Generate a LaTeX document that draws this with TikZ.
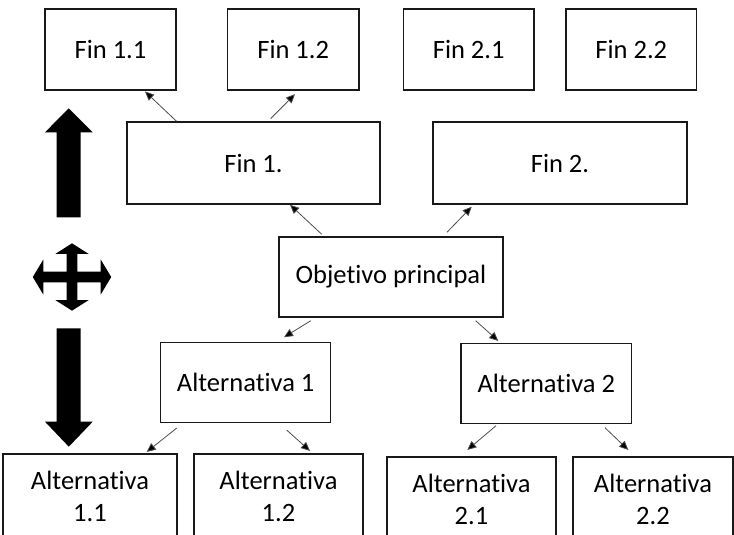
\documentclass[tikz,border=0pt]{standalone}
\usepackage{fontspec}
\setmainfont{Carlito}[Ligatures=NoCommon]
\usetikzlibrary{arrows.meta}
\begin{document}
\begin{tikzpicture}[x=1pt,y=-1pt,
  box/.style={draw=black!90, line width=1.5pt, rectangle, inner sep=0pt,
    align=center, font=\fontsize{26.5}{32}\selectfont},
  conn/.style={draw=black!70, line width=0.8pt,
    -{Triangle[length=9pt,width=8pt,fill=black]}},
  bigarrow/.style={fill=black, draw=none}]
\useasboundingbox (0,0) rectangle (734,535);
\clip (0,0) rectangle (734,535);

% top row
\node[box, minimum width=131pt, minimum height=81pt] (fin11) at (110.5,49.5) {Fin 1.1};
\node[box, minimum width=131.7pt, minimum height=81pt] (fin12) at (293.2,49.5) {Fin 1.2};
\node[box, minimum width=130.7pt, minimum height=81pt] (fin21) at (468.7,49.5) {Fin 2.1};
\node[box, minimum width=130.7pt, minimum height=81pt] (fin22) at (631.3,49.5) {Fin 2.2};

% ends
\node[box, minimum width=253pt, minimum height=82pt] (fin1) at (253.5,163) {Fin 1.};
\node[box, minimum width=254pt, minimum height=82pt] (fin2) at (560,163) {Fin 2.};

% main objective
\node[box, minimum width=224pt, minimum height=80pt] (obj) at (391,277) {Objetivo principal};

% alternatives
\node[box, minimum width=170pt, minimum height=80pt] (alt1) at (245.7,382.7) {Alternativa 1};
\node[box, minimum width=170.7pt, minimum height=80pt] (alt2) at (546.3,383.3) {Alternativa 2};

% sub-alternatives (run past the lower edge)
\node[box, minimum width=174pt, minimum height=84pt] (alt11) at (90,496) {Alternativa\\1.1};
\node[box, minimum width=169pt, minimum height=84pt] (alt12) at (278.5,496) {Alternativa\\1.2};
\node[box, minimum width=169pt, minimum height=84pt] (alt21) at (471.5,499) {Alternativa\\2.1};
\node[box, minimum width=160pt, minimum height=84pt] (alt22) at (653,499) {Alternativa\\2.2};

% connectors
\draw[conn] ([xshift=-77pt]fin1.north) -- ([xshift=34.5pt,yshift=-0.7pt]fin11.south);
\draw[conn] ([xshift=17.2pt,yshift=2.7pt]fin1.north) -- ([xshift=1.8pt,yshift=-3.4pt]fin12.south);
\draw[conn] ([xshift=-69.3pt,yshift=2pt]obj.north) -- ([xshift=36.5pt]fin1.south);
\draw[conn] ([xshift=56pt,yshift=4pt]obj.north) -- ([xshift=-88.3pt,yshift=-2pt]fin2.south);
\draw[conn] ([xshift=-80.3pt,yshift=-3pt]obj.south) -- ([xshift=38.3pt,yshift=4.7pt]alt1.north);
\draw[conn] ([xshift=84.7pt,yshift=-3pt]obj.south) -- ([xshift=-48pt,yshift=1.6pt]alt2.north);
\draw[conn] ([xshift=-69pt,yshift=-4.6pt]alt1.south) -- ([xshift=56.7pt,yshift=1.3pt]alt11.north);
\draw[conn] ([xshift=41pt,yshift=-6.6pt]alt1.south) -- ([xshift=31.5pt,yshift=2.3pt]alt12.north);
\draw[conn] ([xshift=-50.3pt,yshift=-1.7pt]alt2.south) -- ([xshift=-4.2pt,yshift=6.3pt]alt21.north);
\draw[conn] ([xshift=58.7pt,yshift=-3.7pt]alt2.south) -- ([xshift=-24.7pt,yshift=6.3pt]alt22.north);

% block arrow pointing up
\fill[bigarrow] (68.8,108.3) -- (92.7,132.3) -- (80.7,132.3) -- (80.7,217.3)
  -- (56.7,217.3) -- (56.7,132.3) -- (45,132.3) -- cycle;
% block arrow pointing down
\fill[bigarrow] (68.8,446.7) -- (92.7,421.7) -- (80.7,421.7) -- (80.7,328.3)
  -- (56.7,328.3) -- (56.7,421.7) -- (45,421.7) -- cycle;
% four-way arrow
\begin{scope}[shift={(72,277)}]
\fill[bigarrow]
  (0,-33.7) -- (16.5,-23.2) -- (5.3,-23.2) -- (5.3,-5.3)
  -- (28.7,-5.3) -- (28.7,-17.5) -- (39.2,0) -- (28.7,17.5) -- (28.7,5.3)
  -- (5.3,5.3) -- (5.3,23.2) -- (16.5,23.2) -- (0,33.7) -- (-16.5,23.2)
  -- (-5.3,23.2) -- (-5.3,5.3) -- (-28.7,5.3) -- (-28.7,17.5) -- (-39.2,0)
  -- (-28.7,-17.5) -- (-28.7,-5.3) -- (-5.3,-5.3) -- (-5.3,-23.2)
  -- (-16.5,-23.2) -- cycle;
\end{scope}
\end{tikzpicture}
\end{document}
